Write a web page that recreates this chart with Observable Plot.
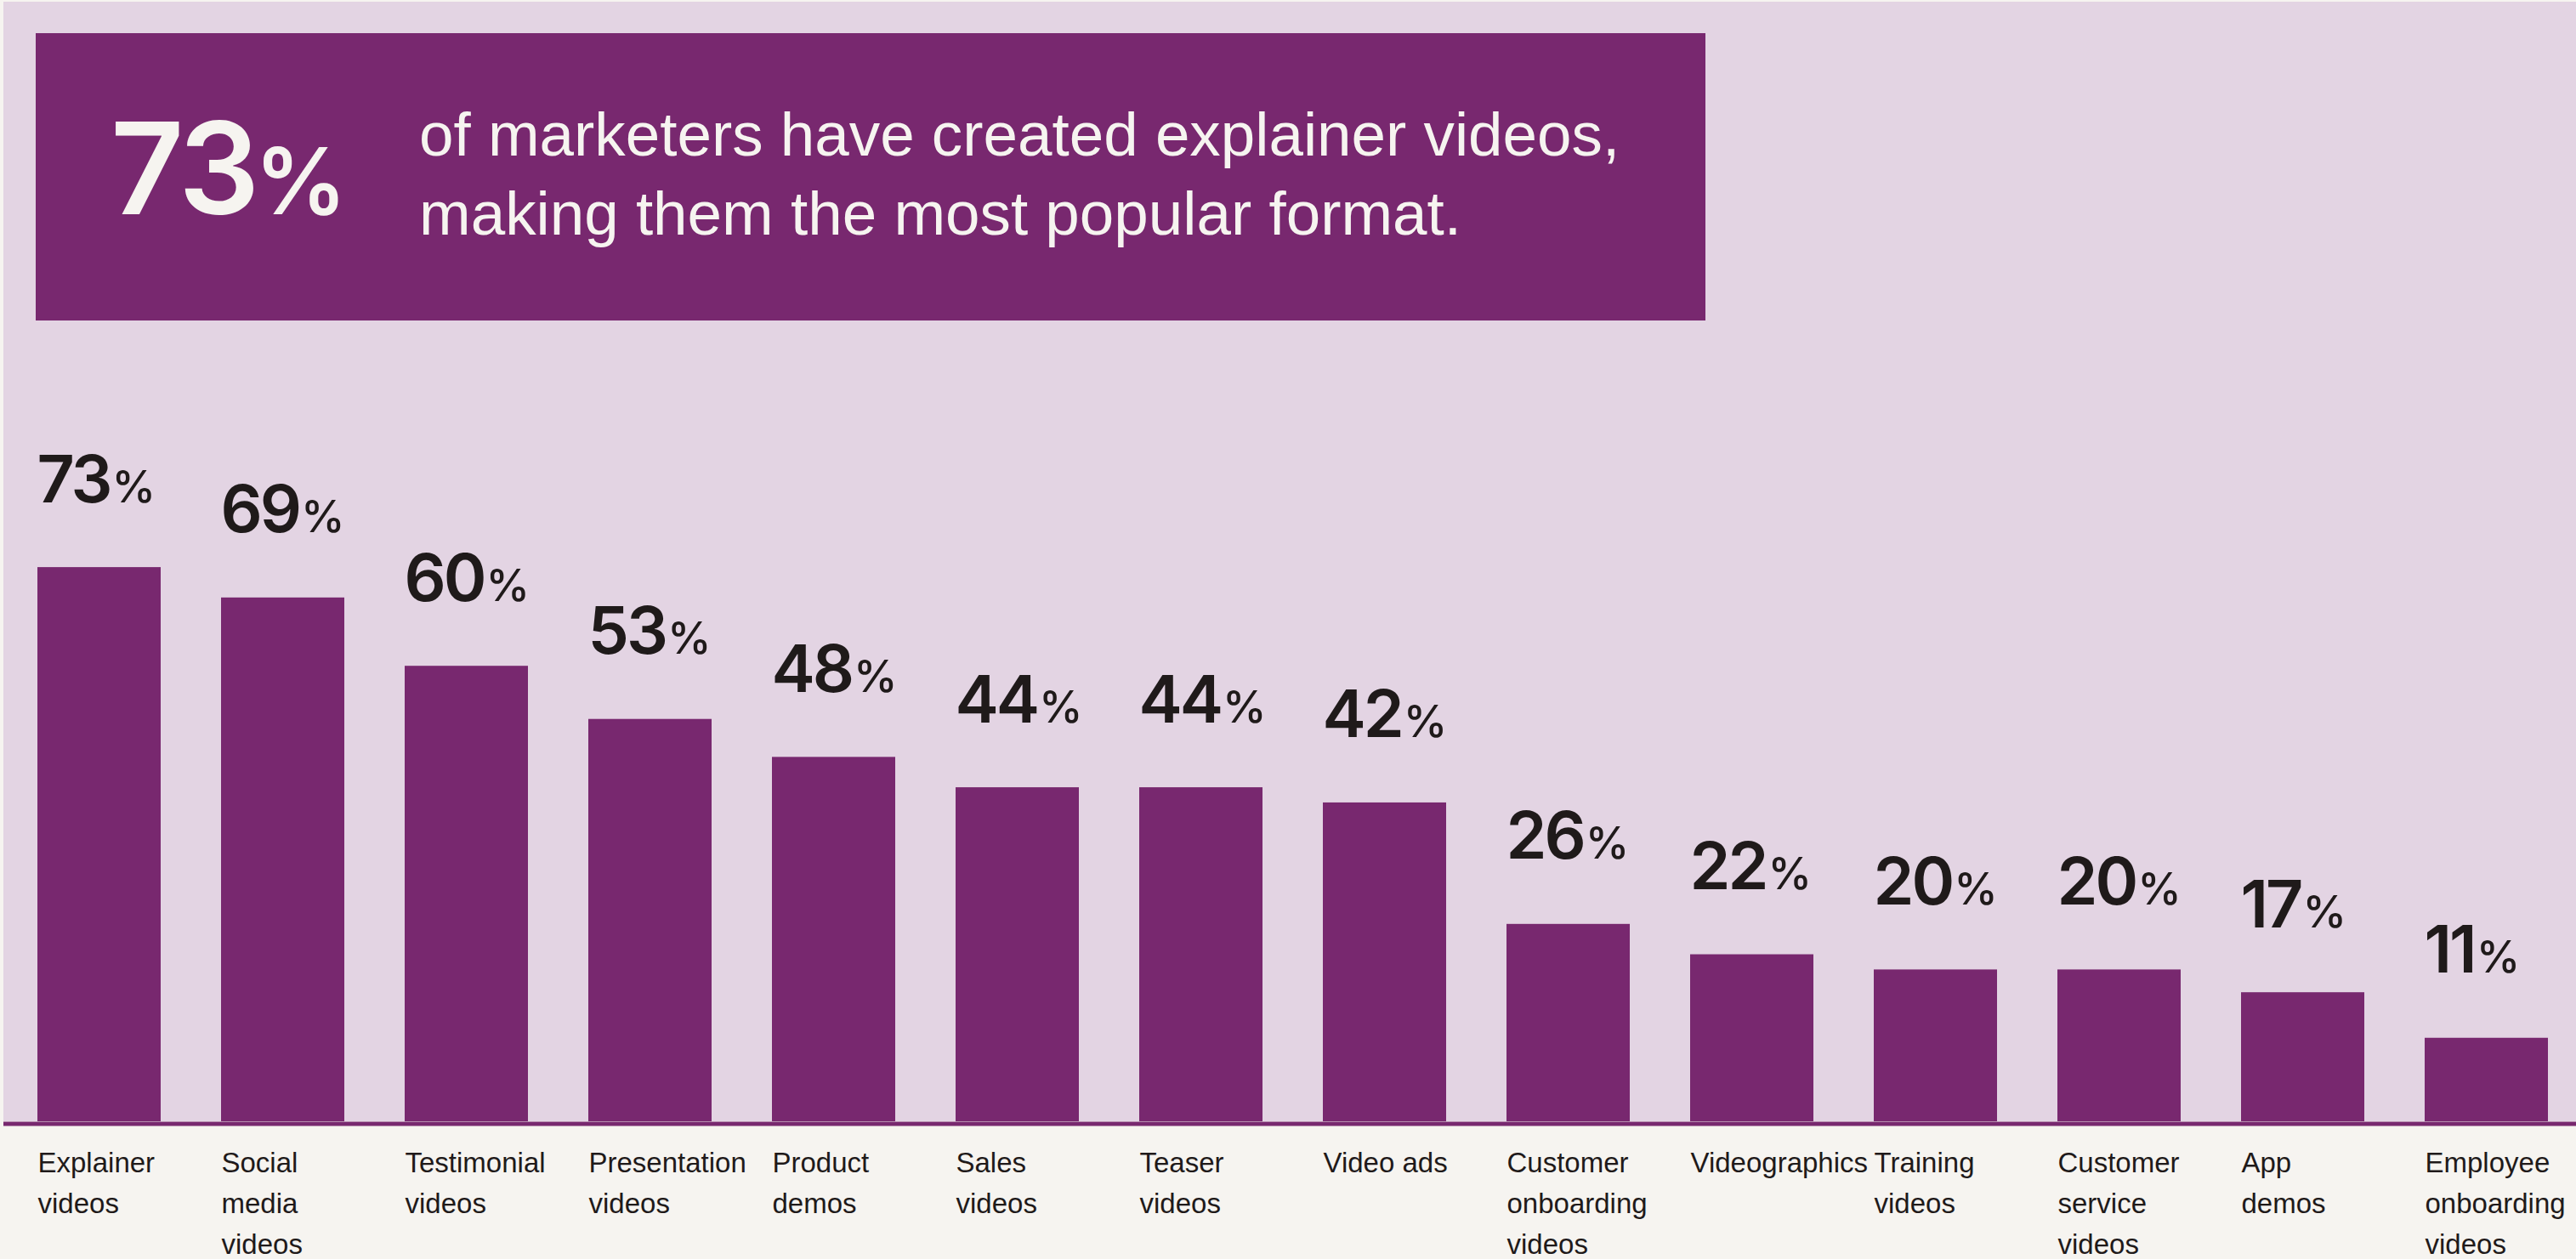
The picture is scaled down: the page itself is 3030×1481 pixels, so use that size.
<!DOCTYPE html>
<html>
<head>
<meta charset="utf-8">
<script src="https://cdn.jsdelivr.net/npm/d3@7"></script>
<script src="https://cdn.jsdelivr.net/npm/@observablehq/plot@0.6"></script>
<style>
  html, body { margin: 0; padding: 0; }
  body { width: 3030px; height: 1481px; position: relative; overflow: hidden; background: #f6f4f0; }
  #bg { position: absolute; left: 4px; top: 2px; width: 3026px; height: 1317px; background: #e3d4e3; }
  #header { position: absolute; left: 42px; top: 39px; width: 1964px; height: 338px; background: #78286f; color: #f6f4f0; }
  #big { position: absolute; left: 88px; top: 84px; font-family: Inter, "Liberation Sans", sans-serif; font-weight: 600; font-size: 150px; line-height: 150px; letter-spacing: -4px; white-space: nowrap; }
  #big span { font-size: 108px; letter-spacing: 0; margin-left: -2px; }
  #sub { position: absolute; left: 451px; top: 72px; font-family: "Liberation Sans", Arial, sans-serif; font-size: 72.8px; line-height: 93px; white-space: nowrap; }
  #chart { position: absolute; left: 0; top: 420px; }
</style>
</head>
<body>
<div id="bg"></div>
<div id="header">
  <div id="big"></div>
  <div id="sub"></div>
</div>
<div id="chart"></div>
<script>
// ---- data ----
const headlineValue = "73";
const headlineUnit = "%";
const headlineText = ["of marketers have created explainer videos,", "making them the most popular format."];

const categories = [
  "Explainer videos", "Social media videos", "Testimonial videos", "Presentation videos",
  "Product demos", "Sales videos", "Teaser videos", "Video ads",
  "Customer onboarding videos", "Videographics", "Training videos",
  "Customer service videos", "App demos", "Employee onboarding videos"
];
const values = [73, 69, 60, 53, 48, 44, 44, 42, 26, 22, 20, 20, 17, 11];
const tickLabels = [
  "Explainer\nvideos", "Social\nmedia\nvideos", "Testimonial\nvideos", "Presentation\nvideos",
  "Product\ndemos", "Sales\nvideos", "Teaser\nvideos", "Video ads",
  "Customer\nonboarding\nvideos", "Videographics", "Training\nvideos",
  "Customer\nservice\nvideos", "App\ndemos", "Employee\nonboarding\nvideos"
];

// ---- header ----
const big = document.getElementById("big");
big.textContent = headlineValue;
const pct = document.createElement("span");
pct.textContent = headlineUnit;
big.appendChild(pct);
const sub = document.getElementById("sub");
headlineText.forEach((t, i) => {
  if (i) sub.appendChild(document.createElement("br"));
  sub.appendChild(document.createTextNode(t));
});

// ---- chart ----
const data = categories.map((c, i) => ({category: c, value: values[i]}));
const purple = "#78286f";
const ink = "#1f1a1a";
const half = 72.5; // half of the band width

const chart = Plot.plot({
  width: 3030,
  height: 1061,
  marginTop: 6,
  marginBottom: 162,
  marginLeft: 41,
  marginRight: 31,
  style: {background: "transparent", fontFamily: "'Liberation Sans', Arial, sans-serif", overflow: "visible"},
  x: {domain: categories, paddingInner: 0.33, paddingOuter: 0},
  y: {domain: [0, 100], axis: null},
  marks: [
    Plot.barY(data, {x: "category", y: "value", fill: purple}),
    Plot.ruleY([0], {stroke: purple, strokeWidth: 5, dy: 2.5, insetLeft: -37, insetRight: -31}),
    Plot.axisX({
      tickSize: 0, tickPadding: 26, textAnchor: "start", dx: -half,
      fontSize: 33, lineHeight: 1.445, color: ink, label: null,
      tickFormat: d => tickLabels[categories.indexOf(d)]
    }),
    Plot.text(data, {
      x: "category", y: "value", text: d => String(d.value),
      textAnchor: "start", lineAnchor: "bottom", dx: -half - 1, dy: -77,
      fontSize: 77, fontWeight: 600, fontFamily: "Inter, 'Liberation Sans', sans-serif",
      fill: ink, className: "vlabel"
    })
  ]
});
document.getElementById("chart").appendChild(chart);

// append a smaller percent sign to each value label
d3.select(chart).selectAll(".vlabel text").each(function () {
  const t = this.textContent;
  this.textContent = "";
  d3.select(this).append("tspan").attr("letter-spacing", -3).text(t);
  d3.select(this).append("tspan").attr("font-size", 52).attr("font-weight", 500).attr("dx", 2).text("%");
});
</script>
</body>
</html>
